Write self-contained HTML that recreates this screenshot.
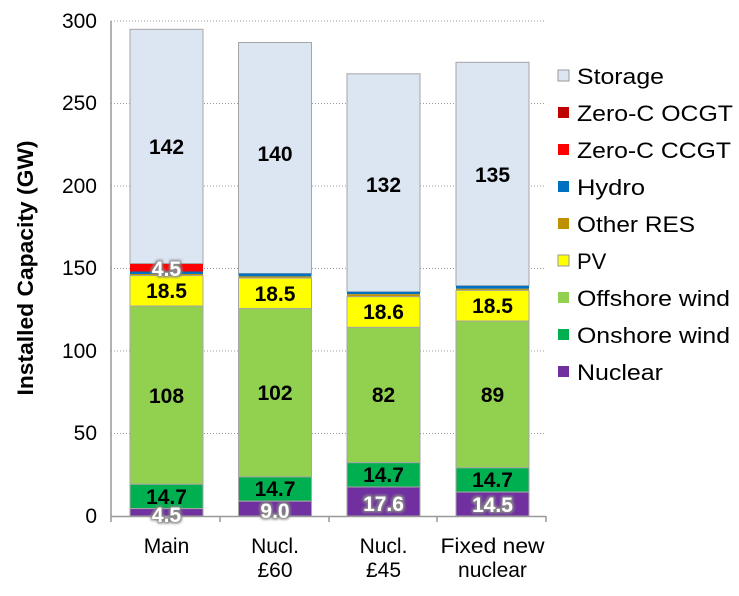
<!DOCTYPE html><html><head><style>body{margin:0;background:#fff}svg{font-family:"Liberation Sans",Arial,sans-serif}</style></head><body>
<svg width="739" height="591" xmlns="http://www.w3.org/2000/svg">
<defs><filter id="g" x="-30%" y="-30%" width="160%" height="160%"><feMorphology in="SourceAlpha" operator="dilate" radius="1.5" result="d"/><feGaussianBlur in="d" stdDeviation="1.2" result="b"/><feFlood flood-color="#888"/><feComposite in2="b" operator="in" result="s"/><feMerge><feMergeNode in="s"/><feMergeNode in="SourceGraphic"/></feMerge></filter></defs>
<g stroke="#999" stroke-dasharray="1,2" stroke-width="1">
<line x1="111" x2="546" y1="433.5" y2="433.5"/><line x1="111" x2="546" y1="351" y2="351"/><line x1="111" x2="546" y1="268.5" y2="268.5"/><line x1="111" x2="546" y1="186" y2="186"/><line x1="111" x2="546" y1="103.5" y2="103.5"/><line x1="111" x2="546" y1="21" y2="21"/></g>
<g font-size="21" fill="#000" text-anchor="end">
<text x="97" y="523">0</text><text x="97" y="440">50</text><text x="97" y="358">100</text><text x="97" y="275">150</text><text x="97" y="193">200</text><text x="97" y="110">250</text><text x="97" y="28">300</text></g>
<text transform="translate(33,268) rotate(-90)" font-size="22" font-weight="bold" text-anchor="middle" textLength="255" lengthAdjust="spacingAndGlyphs">Installed Capacity (GW)</text>
<g stroke="#a6a6a6" stroke-width="1">
<rect x="130" y="29.3" width="73" height="234.2" fill="#dce6f2"/>
<rect x="130" y="263.5" width="73" height="0.5" fill="#c00000"/>
<rect x="130" y="264" width="73" height="7.5" fill="#ff0000" stroke="none"/>
<rect x="130" y="271.5" width="73" height="2.5" fill="#0070c0" stroke="none"/>
<rect x="130" y="274" width="73" height="1.6" fill="#bf9000" stroke="none"/>
<rect x="130" y="275.6" width="73" height="30.5" fill="#ffff00"/>
<rect x="130" y="306.1" width="73" height="178.2" fill="#92d050"/>
<rect x="130" y="484.3" width="73" height="24.3" fill="#00b050"/>
<rect x="130" y="508.6" width="73" height="7.4" fill="#7030a0"/>
<rect x="238.5" y="42.5" width="73" height="231" fill="#dce6f2"/>
<rect x="238.5" y="273.5" width="73" height="2.9" fill="#0070c0" stroke="none"/>
<rect x="238.5" y="276.4" width="73" height="1.7" fill="#bf9000" stroke="none"/>
<rect x="238.5" y="278.1" width="73" height="30.5" fill="#ffff00"/>
<rect x="238.5" y="308.6" width="73" height="168.3" fill="#92d050"/>
<rect x="238.5" y="476.9" width="73" height="24.3" fill="#00b050"/>
<rect x="238.5" y="501.2" width="73" height="14.8" fill="#7030a0"/>
<rect x="347" y="73.8" width="73" height="218" fill="#dce6f2"/>
<rect x="347" y="291.8" width="73" height="2.4" fill="#0070c0" stroke="none"/>
<rect x="347" y="294.2" width="73" height="2.5" fill="#bf9000" stroke="none"/>
<rect x="347" y="296.7" width="73" height="30.7" fill="#ffff00"/>
<rect x="347" y="327.4" width="73" height="135.3" fill="#92d050"/>
<rect x="347" y="462.7" width="73" height="24.3" fill="#00b050"/>
<rect x="347" y="487" width="73" height="29" fill="#7030a0"/>
<rect x="456" y="62.3" width="73" height="223.5" fill="#dce6f2"/>
<rect x="456" y="285.8" width="73" height="3" fill="#0070c0" stroke="none"/>
<rect x="456" y="288.8" width="73" height="1.6" fill="#bf9000" stroke="none"/>
<rect x="456" y="290.4" width="73" height="30.6" fill="#ffff00"/>
<rect x="456" y="321" width="73" height="146.8" fill="#92d050"/>
<rect x="456" y="467.8" width="73" height="24.3" fill="#00b050"/>
<rect x="456" y="492.1" width="73" height="23.9" fill="#7030a0"/>
</g>
<g stroke="#999" stroke-width="1.5"><line x1="111" x2="546" y1="516.5" y2="516.5"/><line x1="111" x2="111" y1="21" y2="522"/>
<line x1="220" x2="220" y1="516" y2="522"/><line x1="329" x2="329" y1="516" y2="522"/><line x1="437" x2="437" y1="516" y2="522"/><line x1="546" x2="546" y1="516" y2="522"/></g>
<g font-size="21" font-weight="bold" text-anchor="middle" fill="#000">
<text x="166.5" y="154">142</text><text x="275" y="161">140</text><text x="383.5" y="192">132</text><text x="492.5" y="182">135</text>
<text x="166.5" y="298">18.5</text><text x="275" y="301">18.5</text><text x="383.5" y="319">18.6</text><text x="492.5" y="313">18.5</text>
<text x="166.5" y="403">108</text><text x="275" y="400">102</text><text x="383.5" y="402">82</text><text x="492.5" y="402">89</text>
<text x="166.5" y="504">14.7</text><text x="275" y="496">14.7</text><text x="383.5" y="482">14.7</text><text x="492.5" y="487">14.7</text>
</g>
<g font-size="21" font-weight="bold" text-anchor="middle" fill="#fff" filter="url(#g)">
<text x="166.5" y="276">4.5</text>
<text x="166.5" y="522">4.5</text><text x="275" y="518">9.0</text><text x="383.5" y="511">17.6</text><text x="492.5" y="512">14.5</text>
</g>
<g font-size="21" text-anchor="middle">
<text x="166.5" y="553">Main</text>
<text x="275" y="553">Nucl.</text><text x="275" y="577">£60</text>
<text x="383.5" y="553">Nucl.</text><text x="383.5" y="577">£45</text>
<text x="492.5" y="553" textLength="104" lengthAdjust="spacingAndGlyphs">Fixed new</text><text x="492.5" y="577">nuclear</text>
</g>
<g font-size="22">
<rect x="558" y="70" width="11" height="11" fill="#dce6f2" stroke="#999"/><text x="577" y="84" textLength="87" lengthAdjust="spacingAndGlyphs">Storage</text>
<rect x="558" y="107" width="11" height="11" fill="#c00000"/><text x="577" y="121" textLength="156" lengthAdjust="spacingAndGlyphs">Zero-C OCGT</text>
<rect x="558" y="144" width="11" height="11" fill="#ff0000"/><text x="577" y="158" textLength="154" lengthAdjust="spacingAndGlyphs">Zero-C CCGT</text>
<rect x="558" y="181" width="11" height="11" fill="#0070c0"/><text x="577" y="195" textLength="68" lengthAdjust="spacingAndGlyphs">Hydro</text>
<rect x="558" y="218" width="11" height="11" fill="#bf9000"/><text x="577" y="232" textLength="118" lengthAdjust="spacingAndGlyphs">Other RES</text>
<rect x="558" y="255" width="11" height="11" fill="#ffff00" stroke="#999"/><text x="577" y="269">PV</text>
<rect x="558" y="292" width="11" height="11" fill="#92d050"/><text x="577" y="306" textLength="153" lengthAdjust="spacingAndGlyphs">Offshore wind</text>
<rect x="558" y="329" width="11" height="11" fill="#00b050"/><text x="577" y="343" textLength="153" lengthAdjust="spacingAndGlyphs">Onshore wind</text>
<rect x="558" y="366" width="11" height="11" fill="#7030a0"/><text x="577" y="380" textLength="86" lengthAdjust="spacingAndGlyphs">Nuclear</text>
</g>
</svg></body></html>
